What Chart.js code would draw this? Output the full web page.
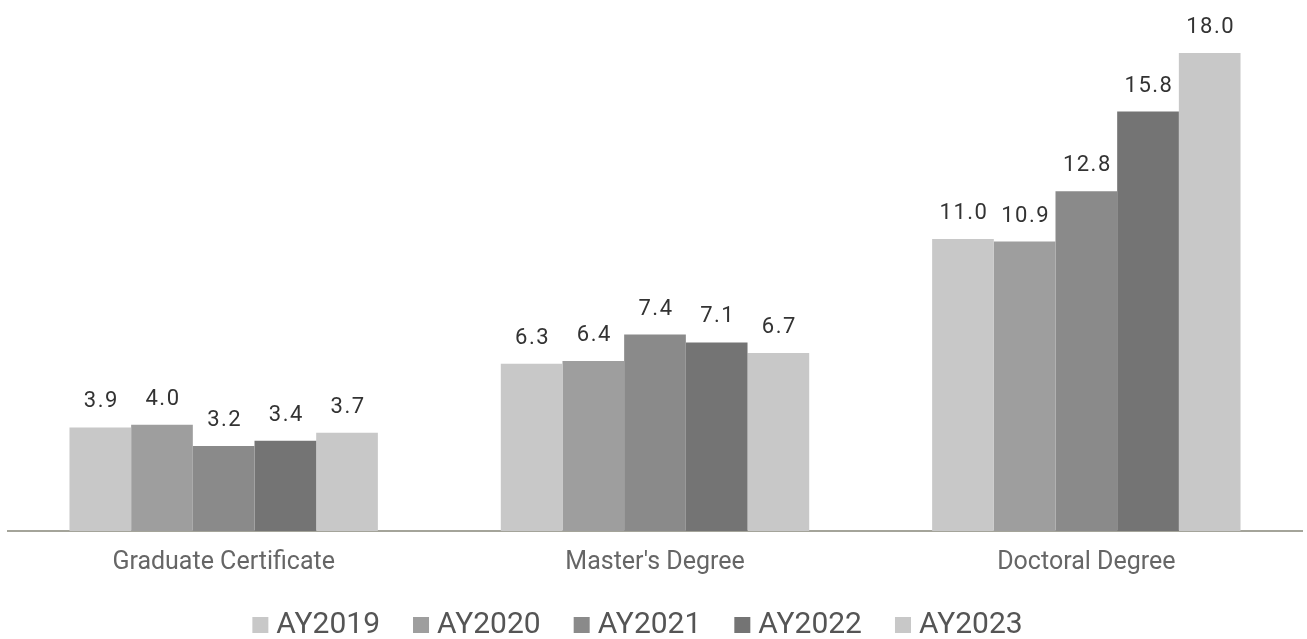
<!DOCTYPE html>
<html>
<head>
<meta charset="utf-8">
<script src="https://cdn.jsdelivr.net/npm/chart.js@4.4.1/dist/chart.umd.min.js"></script>
<style>
  html, body { margin: 0; padding: 0; background: #fff; }
  #wrap { width: 1307px; height: 639px; }
</style>
</head>
<body>
<div id="wrap"><canvas id="barChart"></canvas></div>
<script>
// chart values
var categories = ["Graduate Certificate", "Master's Degree", "Doctoral Degree"];
var seriesNames = ["AY2019", "AY2020", "AY2021", "AY2022", "AY2023"];
var ay2019 = [3.9, 6.3, 11.0];
var ay2020 = [4.0, 6.4, 10.9];
var ay2021 = [3.2, 7.4, 12.8];
var ay2022 = [3.4, 7.1, 15.8];
var ay2023 = [3.7, 6.7, 18.0];

var seriesValues = [ay2019, ay2020, ay2021, ay2022, ay2023];
var barColors = ["#c8c8c8", "#9e9e9e", "#8a8a8a", "#747474", "#c8c8c8"];

// draws the value above each bar
var valueLabels = {
    id: 'valueLabels',
    afterDatasetsDraw: function (chart) {
        var ctx = chart.ctx;
        ctx.save();
        ctx.font = '22px Roboto';
        ctx.letterSpacing = '1.5px';
        ctx.fillStyle = '#333333';
        ctx.textAlign = 'center';
        ctx.textBaseline = 'alphabetic';
        chart.data.datasets.forEach(function (ds, i) {
            var meta = chart.getDatasetMeta(i);
            meta.data.forEach(function (bar, j) {
                ctx.fillText(ds.data[j].toFixed(1), bar.x + 1, bar.y - 20);
            });
        });
        ctx.restore();
    }
};

// legend drawn by hand so the spacing matches
var bottomLegend = {
    id: 'bottomLegend',
    afterDraw: function (chart) {
        var ctx = chart.ctx;
        var box = 16, gap = 8, spacing = 33;
        ctx.save();
        ctx.font = '30px Roboto';
        ctx.textBaseline = 'alphabetic';
        ctx.textAlign = 'left';
        var widths = chart.data.datasets.map(function (ds) {
            return ctx.measureText(ds.label).width;
        });
        var total = 0;
        widths.forEach(function (w) { total += box + gap + w; });
        total += spacing * (widths.length - 1);
        var x = chart.width / 2 - total / 2 - 16;
        var baseY = chart.height - 6;
        chart.data.datasets.forEach(function (ds, i) {
            ctx.fillStyle = ds.backgroundColor;
            ctx.fillRect(x, baseY - box, box, box);
            ctx.fillStyle = '#555555';
            ctx.fillText(ds.label, x + box + gap, baseY);
            x += box + gap + widths[i] + spacing;
        });
        ctx.restore();
    }
};

var datasets = [];
for (var i = 0; i < seriesNames.length; i++) {
    datasets.push({
        label: seriesNames[i],
        data: seriesValues[i],
        backgroundColor: barColors[i],
        borderWidth: 0,
        barPercentage: 1,
        categoryPercentage: 0.715
    });
}

var ctx = document.getElementById("barChart");
var barChart = new Chart(ctx, {
    type: 'bar',
    data: { labels: categories, datasets: datasets },
    plugins: [valueLabels, bottomLegend],
    options: {
        responsive: true,
        maintainAspectRatio: false,
        animation: false,
        layout: { padding: { left: 8, right: 5, top: 0, bottom: 52 } },
        plugins: {
            tooltip: { enabled: false },
            legend: { display: false }
        },
        scales: {
            x: {
                grid: { display: false },
                border: { display: true, color: '#a4a49a', width: 2 },
                ticks: {
                    color: '#666666',
                    padding: 9,
                    font: { family: 'Roboto', size: 25 }
                }
            },
            y: {
                display: false,
                min: 0,
                max: 20
            }
        }
    }
});
</script>
</body>
</html>
